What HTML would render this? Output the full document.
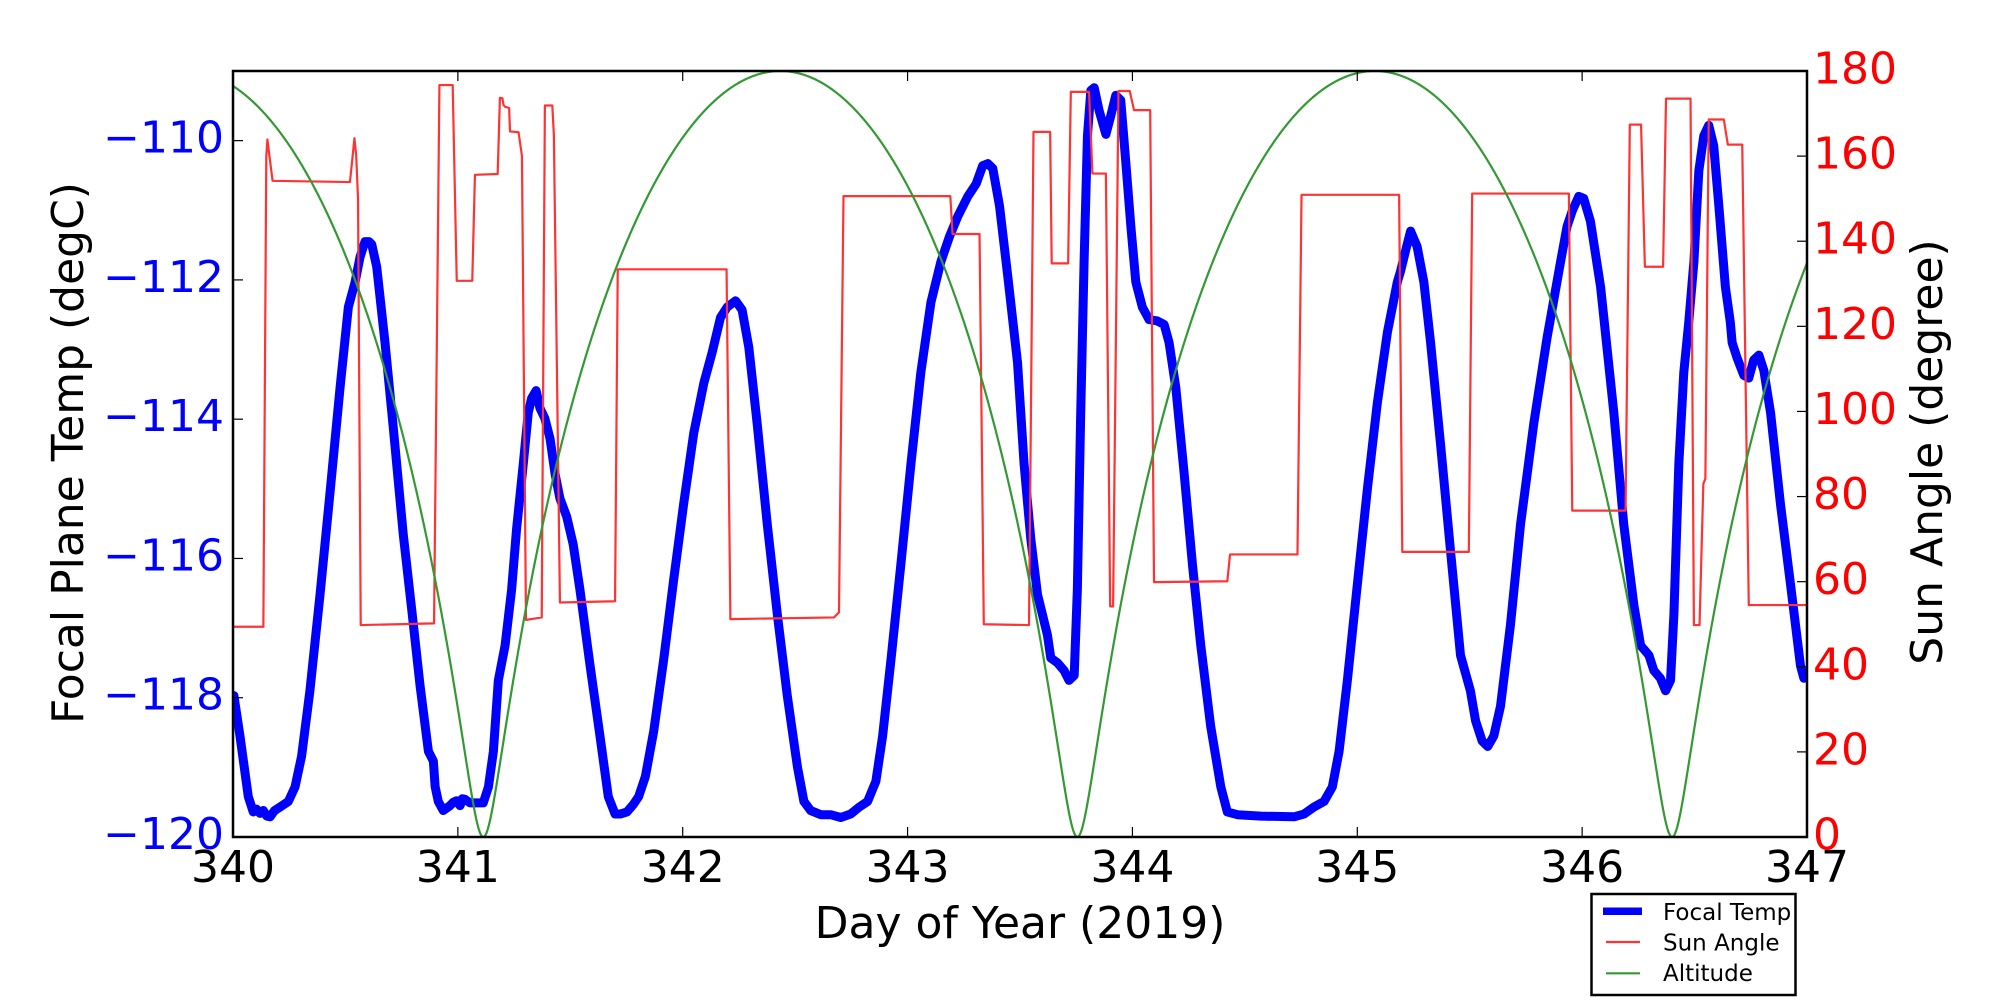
<!DOCTYPE html>
<html>
<head>
<meta charset="utf-8">
<style>
html,body{margin:0;padding:0;background:#fff;}
svg{display:block;}
text{font-family:"DejaVu Sans","Liberation Sans",sans-serif;}
</style>
</head>
<body>
<svg width="2000" height="1000" viewBox="0 0 2000 1000" xmlns="http://www.w3.org/2000/svg">
<rect x="0" y="0" width="2000" height="1000" fill="#fff"/>
<defs>
<clipPath id="ax"><rect x="233" y="71" width="1574" height="766"/></clipPath>
</defs>

<g clip-path="url(#ax)">
<!-- Focal Temp (left axis) -->
<g transform="translate(233 837) scale(224.857 -69.636) translate(-340 120)">
<polyline vector-effect="non-scaling-stroke" fill="none" stroke="#0000ff" stroke-width="9" stroke-linejoin="round" stroke-linecap="round" points="
340.004,-117.97 340.031,-118.55 340.068,-119.42 340.09,-119.64 340.105,-119.6 340.12,-119.66 340.135,-119.62 340.15,-119.7 340.165,-119.71 340.185,-119.62 340.209,-119.57 340.246,-119.49 340.276,-119.28 340.305,-118.84 340.342,-117.9 340.387,-116.52 340.431,-115.07 340.476,-113.55 340.513,-112.39 340.543,-112.03 340.565,-111.67 340.587,-111.45 340.605,-111.45 340.617,-111.49 340.639,-111.81 340.676,-112.9 340.713,-114.13 340.757,-115.65 340.795,-116.74 340.832,-117.83 340.869,-118.77 340.891,-118.91 340.899,-119.28 340.913,-119.49 340.935,-119.62 340.965,-119.55 340.98,-119.5 340.994,-119.48 341.01,-119.55 341.02,-119.45 341.032,-119.46 341.054,-119.51 341.113,-119.51 341.136,-119.28 341.158,-118.77 341.18,-117.75 341.21,-117.25 341.239,-116.45 341.261,-115.58 341.291,-114.64 341.313,-113.91 341.328,-113.7 341.348,-113.59 341.365,-113.84 341.387,-113.99 341.41,-114.28 341.432,-114.78 341.454,-115.14 341.484,-115.4 341.513,-115.8 341.543,-116.45 341.588,-117.54 341.632,-118.55 341.669,-119.42 341.699,-119.67 341.722,-119.67 341.752,-119.64 341.781,-119.53 341.804,-119.42 341.834,-119.13 341.871,-118.48 341.915,-117.46 341.96,-116.3 342.004,-115.22 342.049,-114.2 342.094,-113.48 342.131,-113.04 342.168,-112.54 342.198,-112.39 342.235,-112.3 342.264,-112.43 342.294,-112.97 342.331,-114.06 342.376,-115.51 342.421,-116.81 342.465,-117.97 342.51,-118.99 342.539,-119.49 342.569,-119.62 342.614,-119.68 342.658,-119.68 342.703,-119.72 342.747,-119.67 342.785,-119.57 342.822,-119.49 342.859,-119.2 342.889,-118.55 342.926,-117.46 342.97,-116.09 343.015,-114.64 343.059,-113.33 343.104,-112.32 343.148,-111.74 343.186,-111.38 343.223,-111.09 343.268,-110.8 343.305,-110.62 343.334,-110.36 343.357,-110.33 343.379,-110.4 343.409,-110.94 343.446,-111.96 343.489,-113.19 343.518,-114.64 343.548,-115.72 343.578,-116.52 343.6,-116.81 343.622,-117.1 343.637,-117.43 343.667,-117.5 343.696,-117.61 343.718,-117.75 343.741,-117.68 343.755,-116.45 343.77,-113.91 343.785,-111.74 343.8,-109.93 343.815,-109.28 343.83,-109.24 343.852,-109.57 343.882,-109.91 343.904,-109.64 343.926,-109.35 343.948,-109.42 343.97,-110.29 343.993,-111.23 344.015,-112.03 344.044,-112.39 344.074,-112.57 344.111,-112.59 344.141,-112.64 344.163,-112.9 344.193,-113.55 344.23,-114.78 344.267,-116.09 344.304,-117.25 344.348,-118.41 344.393,-119.28 344.422,-119.64 344.467,-119.68 344.571,-119.7 344.719,-119.71 344.763,-119.67 344.807,-119.57 344.852,-119.49 344.889,-119.28 344.919,-118.77 344.956,-117.75 345.0,-116.38 345.045,-115.0 345.089,-113.77 345.134,-112.75 345.178,-112.03 345.192,-111.88 345.214,-111.59 345.237,-111.3 345.266,-111.52 345.296,-112.03 345.326,-112.9 345.37,-114.35 345.414,-115.87 345.459,-117.39 345.503,-117.9 345.526,-118.33 345.555,-118.62 345.58,-118.7 345.607,-118.55 345.637,-118.12 345.681,-116.96 345.726,-115.51 345.785,-114.06 345.844,-112.83 345.904,-111.74 345.933,-111.23 345.956,-111.01 345.985,-110.8 346.007,-110.83 346.037,-111.16 346.082,-112.1 346.141,-113.91 346.185,-115.51 346.23,-116.67 346.26,-117.25 346.297,-117.39 346.319,-117.61 346.348,-117.72 346.371,-117.9 346.393,-117.75 346.408,-116.81 346.43,-114.64 346.452,-113.33 346.474,-112.61 346.497,-111.74 346.519,-110.43 346.541,-109.93 346.563,-109.78 346.585,-110.07 346.608,-110.94 346.637,-112.1 346.659,-112.61 346.667,-112.9 346.689,-113.12 346.719,-113.37 346.741,-113.41 346.763,-113.15 346.786,-113.08 346.808,-113.3 346.838,-113.91 346.882,-115.22 346.927,-116.38 346.971,-117.54 346.986,-117.72"/>
</g>

<!-- Sun Angle & Altitude (right axis) -->
<g transform="translate(233 837) scale(224.857 -4.25556) translate(-340 0)">
<polyline vector-effect="non-scaling-stroke" fill="none" stroke="#ff3333" stroke-width="2.2" stroke-linejoin="round" points="
340,49.4 340.135,49.4 340.148,160 340.153,163.9 340.162,160 340.176,154.2 340.52,153.9 340.532,160 340.54,164.2 340.548,160 340.556,150 340.568,49.8 340.894,50.2 340.918,176.7 340.977,176.7 340.995,130.7 341.064,130.7 341.076,155.6 341.177,155.8 341.187,173.7 341.198,173.6 341.203,172 341.21,171.6 341.228,171.3 341.232,165.8 341.27,165.6 341.285,160 341.303,51.0 341.373,51.6 341.387,171.9 341.42,171.9 341.427,165 341.454,55.1 341.699,55.4 341.711,133.4 342.195,133.4 342.212,51.2 342.673,51.6 342.695,52.8 342.715,150.6 343.19,150.6 343.2,141.7 343.32,141.7 343.339,50.0 343.54,49.8 343.56,165.7 343.634,165.7 343.641,134.8 343.714,134.8 343.726,175.1 343.807,175.1 343.822,155.9 343.882,155.9 343.901,54.2 343.914,54.2 343.938,175.3 343.988,175.3 344.007,170.8 344.079,170.8 344.096,59.9 344.422,60.1 344.434,66.4 344.734,66.4 344.752,150.9 345.186,150.9 345.2,67.0 345.496,67.0 345.511,151.2 345.941,151.2 345.956,76.7 346.193,76.7 346.212,167.4 346.262,167.4 346.279,134 346.36,134 346.373,173.5 346.482,173.5 346.497,49.8 346.522,49.8 346.539,83 346.548,84.2 346.563,168.6 346.63,168.6 346.648,162.7 346.712,162.7 346.741,54.5 347,54.5"/>
<polyline id="alt" vector-effect="non-scaling-stroke" fill="none" stroke="#339933" stroke-width="2.2" stroke-linejoin="round" points="
340.0,176.1 340.135,170.8 340.283,160.1 340.431,143.5 340.55,128.1 340.654,109.1 340.728,97.2 340.802,78.3 340.876,56.9 340.95,34.4 341.024,14.2 341.084,3.6 341.113,0 341.143,4.7 341.202,22.5 341.261,41.5 341.321,60.5 341.395,79.4 341.469,96 341.543,111.5 341.617,125.7 341.691,135.2 341.74,139 341.796,143.5 341.871,151.8 341.945,159.5 342.019,166 342.094,171.3 342.168,174.9 342.242,177.9 342.316,179.4 342.435,180 342.539,179 342.614,177.3 342.688,174.3 342.762,170.2 342.837,164.8 342.911,158.9 342.985,151.8 343.059,143.5 343.134,134 343.208,123.3 343.282,111.5 343.357,97.2 343.431,83 343.459,79.4 343.505,66.4 343.533,54.5 343.607,29.6 343.681,10.7 343.755,0 343.83,19 343.904,42.7 343.978,65.2 344.052,84.2 344.126,99.6 344.2,112.7 344.274,125.7 344.348,136.4 344.422,145.9 344.497,153.6 344.571,160.1 344.645,166 344.719,170.8 344.793,174.3 344.867,177.3 344.941,179.1 345.05,180 345.164,179.3 345.266,176.7 345.34,174.3 345.414,169.6 345.489,163.6 345.563,157.7 345.637,150.6 345.711,142.3 345.785,134 345.859,123.3 345.933,112.7 346.007,99.6 346.082,84.2 346.156,66.4 346.23,48.6 346.304,27.3 346.363,10.7 346.4,0 346.452,14.2 346.526,36.8 346.6,56.9 346.675,75.9 346.749,90.1 346.823,104.4 346.897,118.6 346.971,129.3 347.0,134"/>
</g>
</g>

<!-- ticks -->
<g stroke="#000" stroke-width="1.2">
<line x1="457.86" y1="837" x2="457.86" y2="827"/><line x1="457.86" y1="71" x2="457.86" y2="81"/>
<line x1="682.71" y1="837" x2="682.71" y2="827"/><line x1="682.71" y1="71" x2="682.71" y2="81"/>
<line x1="907.57" y1="837" x2="907.57" y2="827"/><line x1="907.57" y1="71" x2="907.57" y2="81"/>
<line x1="1132.43" y1="837" x2="1132.43" y2="827"/><line x1="1132.43" y1="71" x2="1132.43" y2="81"/>
<line x1="1357.29" y1="837" x2="1357.29" y2="827"/><line x1="1357.29" y1="71" x2="1357.29" y2="81"/>
<line x1="1582.14" y1="837" x2="1582.14" y2="827"/><line x1="1582.14" y1="71" x2="1582.14" y2="81"/>
<line x1="233" y1="697.73" x2="243" y2="697.73"/>
<line x1="233" y1="558.46" x2="243" y2="558.46"/>
<line x1="233" y1="419.18" x2="243" y2="419.18"/>
<line x1="233" y1="279.91" x2="243" y2="279.91"/>
<line x1="233" y1="140.64" x2="243" y2="140.64"/>
<line x1="1807" y1="751.89" x2="1797" y2="751.89"/>
<line x1="1807" y1="666.78" x2="1797" y2="666.78"/>
<line x1="1807" y1="581.67" x2="1797" y2="581.67"/>
<line x1="1807" y1="496.56" x2="1797" y2="496.56"/>
<line x1="1807" y1="411.44" x2="1797" y2="411.44"/>
<line x1="1807" y1="326.33" x2="1797" y2="326.33"/>
<line x1="1807" y1="241.22" x2="1797" y2="241.22"/>
<line x1="1807" y1="156.11" x2="1797" y2="156.11"/>
</g>

<!-- spines -->
<rect x="233" y="71" width="1574" height="766" fill="none" stroke="#000" stroke-width="2.5"/>

<!-- x tick labels -->
<g font-size="44" fill="#000" text-anchor="middle">
<text x="233" y="882">340</text>
<text x="457.86" y="882">341</text>
<text x="682.71" y="882">342</text>
<text x="907.57" y="882">343</text>
<text x="1132.43" y="882">344</text>
<text x="1357.29" y="882">345</text>
<text x="1582.14" y="882">346</text>
<text x="1807" y="882">347</text>
</g>

<!-- left tick labels -->
<g font-size="44" fill="#0000ff" text-anchor="end">
<text x="224" y="849">−120</text>
<text x="224" y="709.7">−118</text>
<text x="224" y="570.5">−116</text>
<text x="224" y="431.2">−114</text>
<text x="224" y="291.9">−112</text>
<text x="224" y="152.6">−110</text>
</g>

<!-- right tick labels -->
<g font-size="44" fill="#ff0000" text-anchor="start">
<text x="1813" y="849.5">0</text>
<text x="1813" y="764.4">20</text>
<text x="1813" y="679.3">40</text>
<text x="1813" y="594.2">60</text>
<text x="1813" y="509.1">80</text>
<text x="1813" y="423.9">100</text>
<text x="1813" y="338.8">120</text>
<text x="1813" y="253.7">140</text>
<text x="1813" y="168.6">160</text>
<text x="1813" y="83.5">180</text>
</g>

<!-- axis labels -->
<text x="1020" y="938" font-size="44" text-anchor="middle" fill="#000">Day of Year (2019)</text>
<text x="83" y="453" font-size="44" text-anchor="middle" fill="#000" transform="rotate(-90 83 453)">Focal Plane Temp (degC)</text>
<text x="1942" y="452" font-size="44" text-anchor="middle" fill="#000" transform="rotate(-90 1942 452)">Sun Angle (degree)</text>

<!-- legend -->
<rect x="1591.5" y="894" width="204" height="101" fill="#fff" stroke="#000" stroke-width="2.5"/>
<line x1="1603" y1="911.3" x2="1642" y2="911.3" stroke="#0000ff" stroke-width="7.5"/>
<line x1="1606" y1="942" x2="1640" y2="942" stroke="#ff3333" stroke-width="2.2"/>
<line x1="1606" y1="973.3" x2="1640" y2="973.3" stroke="#339933" stroke-width="2.2"/>
<g font-size="23" fill="#000">
<text x="1663" y="920">Focal Temp</text>
<text x="1663" y="950.5">Sun Angle</text>
<text x="1663" y="981">Altitude</text>
</g>
</svg>
<script>
(function(){
  try{
    var el=document.getElementById('alt');
    var tps=[341.113,343.755,346.4];
    var e=0.77;
    function val(d){
      var tp,P;
      if(d<tps[0]){tp=tps[0];P=tps[1]-tps[0];}
      else if(d<tps[1]){tp=tps[0];P=tps[1]-tps[0];}
      else if(d<tps[2]){tp=tps[1];P=tps[2]-tps[1];}
      else {tp=tps[2];P=2.645;}
      var M=2*Math.PI*(d-tp)/P;
      var E=M+(M>=0?1:-1)*0.5;
      if(Math.abs(M)<0.3) E=M/(1-e);
      for(var i=0;i<60;i++){
        var f=E-e*Math.sin(E)-M;
        var fp=1-e*Math.cos(E);
        E=E-f/fp;
      }
      return 180*(1-Math.cos(E))/2;
    }
    var out=[];
    for(var d=340;d<=347.0001;d+=0.002){
      out.push(d.toFixed(4)+','+val(d).toFixed(2));
    }
    el.setAttribute('points',out.join(' '));
  }catch(err){}
})();
</script>
</body>
</html>
